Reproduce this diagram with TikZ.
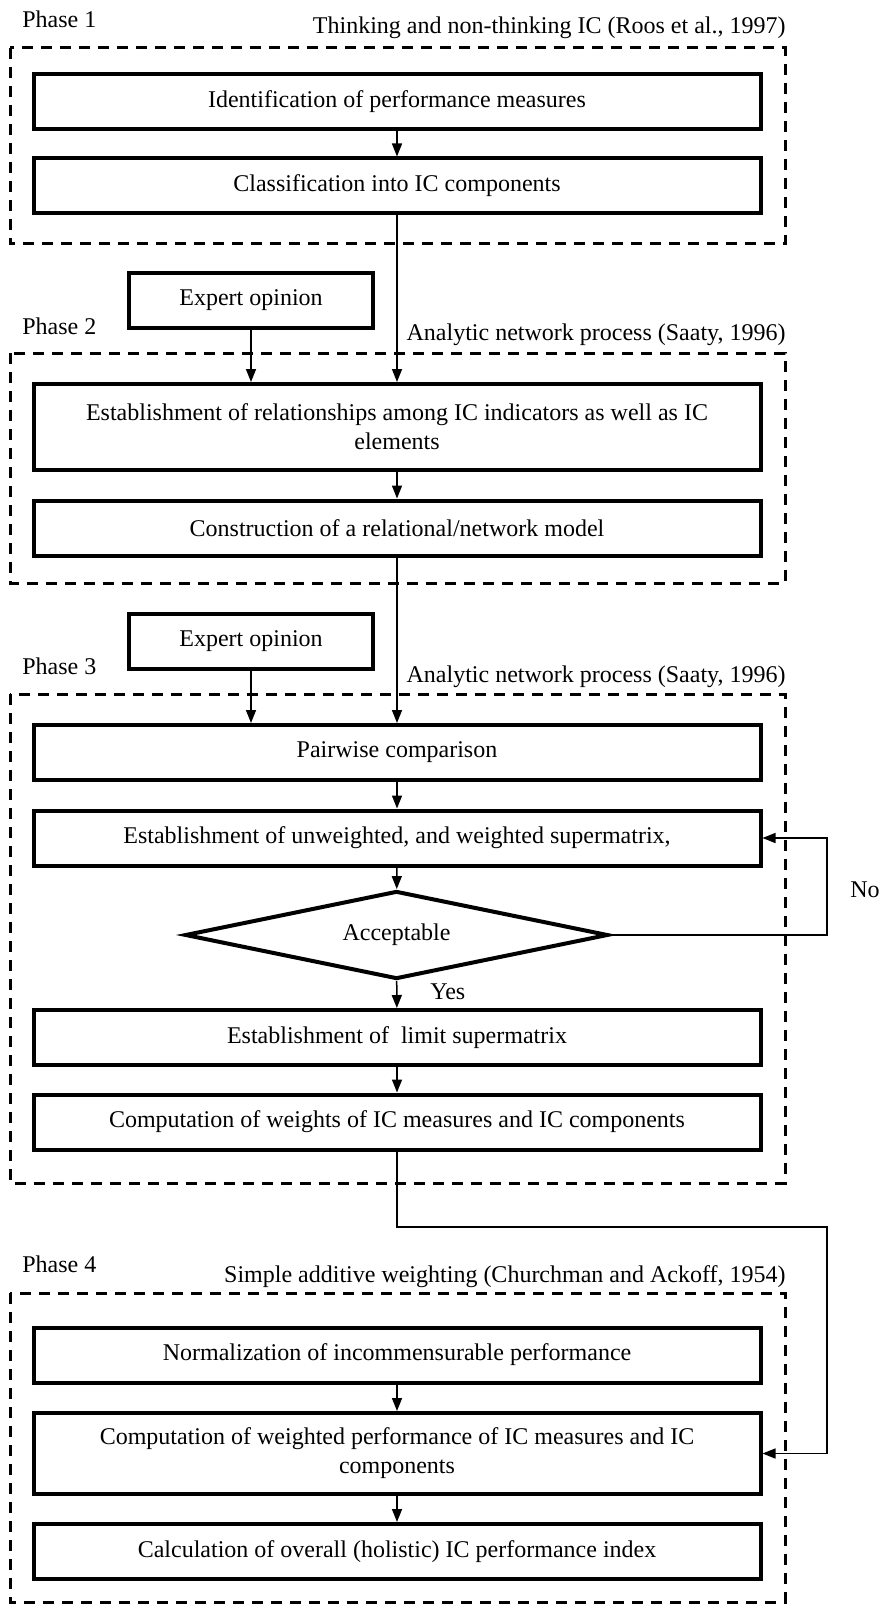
\documentclass[tikz,border=0pt]{standalone}
\usepackage{amsmath, amssymb, amsfonts, tikz}
\usepackage{fontspec}
\setmainfont{Liberation Serif}
\usetikzlibrary{arrows.meta, shapes.geometric}

\begin{document}
\begin{tikzpicture}[
    x=0.5pt, y=-0.5pt,
    font=\fontsize{12}{14.5}\selectfont,
    stepbox/.style={draw, line width=2pt, minimum width=363.5pt, minimum height=27.5pt, align=center, inner sep=2pt},
    expertbox/.style={draw, line width=2pt, minimum width=122pt, minimum height=27.5pt, inner sep=2pt},
    phasebox/.style={draw, line width=1.5pt, dash pattern=on 5.5pt off 4pt},
    link/.style={line width=0.75pt, -{Triangle[length=6.5pt, width=5pt]}},
    tag/.style={inner sep=0pt}
]
    \useasboundingbox (0,0) rectangle (881,1605);

    % 1. Phase frames and their captions
    \draw[phasebox] (10,48) rectangle (785,244);
    \draw[phasebox] (10,353) rectangle (785,583);
    \draw[phasebox] (10,694) rectangle (785,1183);
    \draw[phasebox] (10,1293) rectangle (785,1602);

    \node[tag, anchor=base west] (p1) at (22,28) {Phase 1};
    \node[tag, anchor=base east] (m1) at (786,34) {Thinking and non-thinking IC (Roos et al., 1997)};
    \node[tag, anchor=base west] (p2) at (22,334) {Phase 2};
    \node[tag, anchor=base east] (m2) at (786,340) {Analytic network process (Saaty, 1996)};
    \node[tag, anchor=base west] (p3) at (22,674) {Phase 3};
    \node[tag, anchor=base east] (m3) at (786,682) {Analytic network process (Saaty, 1996)};
    \node[tag, anchor=base west] (p4) at (22,1272) {Phase 4};
    \node[tag, anchor=base east] (m4) at (786,1282) {Simple additive weighting (Churchman and Ackoff, 1954)};

    % 2. Steps
    \node[stepbox] (ident) at (397,101.5) {Identification of performance measures};
    \node[stepbox] (classif) at (397,186) {Classification into IC components};

    \node[expertbox] (expert1) at (251,300.5) {Expert opinion};
    \node[stepbox, minimum height=43pt] (relation) at (397,427) {Establishment of relationships among IC indicators as well as IC\\ elements};
    \node[stepbox] (construct) at (397,528) {Construction of a relational/network model};

    \node[expertbox] (expert2) at (251,641.5) {Expert opinion};
    \node[stepbox] (pairwise) at (397,752.5) {Pairwise comparison};
    \node[stepbox] (unweighted) at (397,838) {Establishment of unweighted, and weighted supermatrix,};
    \node[draw, diamond, shape aspect=5, line width=2pt, minimum width=211.5pt, minimum height=44pt, inner sep=0pt] (accept) at (396.5,935) {Acceptable};
    \node[stepbox] (limit) at (397,1037.5) {Establishment of\ \ limit supermatrix};
    \node[stepbox] (weights) at (397,1122) {Computation of weights of IC measures and IC components};

    \node[stepbox] (normal) at (397,1355) {Normalization of incommensurable performance};
    \node[stepbox, minimum height=40.5pt] (weighted) at (397,1453.5) {Computation of weighted performance of IC measures and IC\\ components};
    \node[stepbox] (calc) at (397,1551.5) {Calculation of overall (holistic) IC performance index};

    % 3. Connectors
    \coordinate (noback) at (827,935);
    \coordinate (jump) at (827,1227);

    \draw[link] (ident) -- (classif);
    \draw[link] (classif) -- (relation);
    \draw[link] (expert1.south) -- (expert1.south |- relation.north);
    \draw[link] (relation) -- (construct);
    \draw[link] (construct) -- (pairwise);
    \draw[link] (expert2.south) -- (expert2.south |- pairwise.north);
    \draw[link] (pairwise) -- (unweighted);
    \draw[link] (unweighted) -- (accept);
    \draw[link] (accept) -- (limit);
    \draw[link] (accept.east) -- (noback) |- (unweighted.east);
    \draw[link] (limit) -- (weights);
    \draw[link] (weights.south) |- (jump) |- (weighted.east);
    \draw[link] (normal) -- (weighted);
    \draw[link] (weighted) -- (calc);

    \node[tag, anchor=base west] (yes) at (430,999) {Yes};
    \node[tag, anchor=base west] (no) at (850,897) {No};

\end{tikzpicture}
\end{document}
